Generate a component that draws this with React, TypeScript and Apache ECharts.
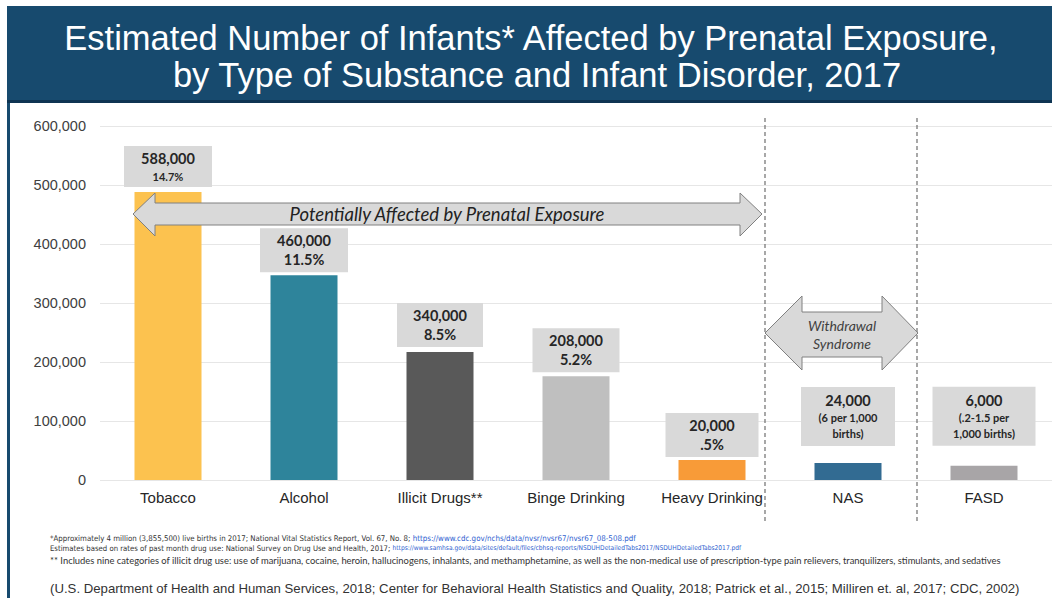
import React, { useEffect, useRef } from "react";
import * as echarts from "echarts";

const categories = ["Tobacco", "Alcohol", "Illicit Drugs**", "Binge Drinking", "Heavy Drinking", "NAS", "FASD"];
// bar heights as drawn in the picture
const barValues = [488000, 347000, 217000, 176000, 34000, 29000, 24000];
// numbers printed in the grey boxes
const labelTotals = ["588,000", "460,000", "340,000", "208,000", "20,000", "24,000", "6,000"];
const labelNotes = [["14.7%"], ["11.5%"], ["8.5%"], ["5.2%"], [".5%"], ["(6 per 1,000", "births)"], ["(.2-1.5 per", "1,000 births)"]];
const barColors = ["#fcc24f", "#2e849b", "#595959", "#bfbfbf", "#f89b38", "#326b92", "#a8a5a7"];

const titleLines = [
  "Estimated Number of Infants* Affected by Prenatal Exposure,",
  "by Type of Substance and Infant Disorder, 2017",
];
const footLine1 = "*Approximately 4 million (3,855,500) live births in 2017; National Vital Statistics Report, Vol. 67, No. 8; ";
const footLink1 = "https://www.cdc.gov/nchs/data/nvsr/nvsr67/nvsr67_08-508.pdf";
const footLine2 = "Estimates based on rates of past month drug use: National Survey on Drug Use and Health, 2017; ";
const footLink2 = "https://www.samhsa.gov/data/sites/default/files/cbhsq-reports/NSDUHDetailedTabs2017/NSDUHDetailedTabs2017.pdf";
const footLine3 = "** Includes nine categories of illicit drug use: use of marijuana, cocaine, heroin, hallucinogens, inhalants, and methamphetamine, as well as the non-medical use of prescription-type pain relievers, tranquilizers, stimulants, and sedatives";
const sourceLine = "(U.S. Department of Health and Human Services, 2018; Center for Behavioral Health Statistics and Quality, 2018; Patrick et al., 2015; Milliren et. al, 2017; CDC, 2002)";
const arrowText1 = "Potentially Affected by Prenatal Exposure";
const arrowText2 = ["Withdrawal", "Syndrome"];

// label box styling (positions/sizes kept apart from data)
const labelDistances = [5, 3, 5, 4, 3, 17, 20];
const labelWidths = [88, 88, 86, 87, 93, 94, 103];
const labelSubKinds = ["t", "s", "s", "s", "s", "t", "t"];
const labelPads = [3, 3, 3, 3, 3, 4, 4];

const SANS = "'Liberation Sans', Arial, sans-serif";
const NARROW = "'Liberation Sans Narrow', 'DejaVu Sans Condensed', 'Liberation Sans', sans-serif";
const CAL = "Lato, 'Open Sans', sans-serif";

export default function App() {
  const ref = useRef<HTMLDivElement>(null);
  useEffect(() => {
    document.body.style.margin = "0";
    const chart = echarts.init(ref.current!, null, { renderer: "svg", width: 1052, height: 598 });

    const data = barValues.map((v, i) => ({
      value: v,
      itemStyle: { color: barColors[i] },
      label: {
        distance: labelDistances[i],
        width: labelWidths[i],
        padding: [labelPads[i], 0, labelPads[i], 0],
      },
    }));

    const option: any = {
      animation: false,
      backgroundColor: "#ffffff",
      grid: { left: 100, right: 0, top: 126, bottom: 118 },
      xAxis: {
        type: "category",
        data: categories,
        axisLine: { show: false },
        axisTick: { show: false },
        axisLabel: { color: "#262626", fontSize: 15, fontFamily: SANS, margin: 10, interval: 0 },
      },
      yAxis: {
        type: "value",
        min: 0,
        max: 600000,
        interval: 100000,
        axisLine: { show: false },
        axisTick: { show: false },
        splitLine: { lineStyle: { color: "#e6e6e6", width: 1 } },
        axisLabel: {
          color: "#404040",
          fontSize: 14.5,
          fontFamily: SANS,
          margin: 14,
          formatter: (v: number) => v.toLocaleString("en-US"),
        },
      },
      series: [
        {
          type: "bar",
          data,
          barWidth: 67,
          label: {
            show: true,
            position: "top",
            backgroundColor: "#d9d9d9",
            align: "center",
            formatter: (p: any) => {
              const i = p.dataIndex;
              const k = labelSubKinds[i];
              return `{v|${labelTotals[i]}}\n` + labelNotes[i].map((s) => `{${k}|${s}}`).join("\n");
            },
            rich: {
              v: { fontFamily: CAL, fontWeight: "bold", fontSize: 14.5, lineHeight: 19, color: "#262626", align: "center" },
              s: { fontFamily: CAL, fontWeight: "bold", fontSize: 14.5, lineHeight: 19, color: "#262626", align: "center" },
              t: { fontFamily: CAL, fontWeight: "bold", fontSize: 11, lineHeight: 16, color: "#262626", align: "center" },
            },
          },
        },
      ],
      graphic: [
        { type: "rect", shape: { x: 7, y: 6, width: 1045, height: 96 }, style: { fill: "#174a6e" }, z: 0 },
        { type: "rect", shape: { x: 7, y: 100, width: 1045, height: 3 }, style: { fill: "#0e3452" }, z: 0 },
        { type: "rect", shape: { x: 7, y: 103, width: 3, height: 495 }, style: { fill: "#174a6e" }, z: 0 },
        {
          type: "text", x: 531, y: 38, z: 5,
          style: { text: titleLines[0], fill: "#ffffff", font: `34.5px ${SANS}`, align: "center", verticalAlign: "middle" },
        },
        {
          type: "text", x: 537, y: 75, z: 5,
          style: { text: titleLines[1], fill: "#ffffff", font: `34.5px ${SANS}`, align: "center", verticalAlign: "middle" },
        },
        // dashed separators
        { type: "line", shape: { x1: 765, y1: 118, x2: 765, y2: 522 }, style: { stroke: "#6e6e6e", lineWidth: 1.2, lineDash: [4, 3] }, z: 3 },
        { type: "line", shape: { x1: 917, y1: 118, x2: 917, y2: 522 }, style: { stroke: "#6e6e6e", lineWidth: 1.2, lineDash: [4, 3] }, z: 3 },
        // big double arrow
        {
          type: "polygon", z: 10,
          shape: {
            points: [
              [133, 214], [155, 193], [155, 203], [740, 203], [740, 193],
              [762, 214], [740, 236], [740, 225], [155, 225], [155, 236],
            ],
          },
          style: { fill: "#d9d9d9", stroke: "#808080", lineWidth: 1 },
        },
        {
          type: "text", x: 447, y: 214, z: 11,
          style: { text: arrowText1, fill: "#222222", font: `italic 18.5px ${CAL}`, align: "center", verticalAlign: "middle" },
        },
        // withdrawal arrow
        {
          type: "polygon", z: 10,
          shape: {
            points: [
              [765, 333], [802, 296], [802, 312], [882, 312], [882, 296],
              [918, 333], [882, 370], [882, 357], [802, 357], [802, 370],
            ],
          },
          style: { fill: "#d9d9d9", stroke: "#808080", lineWidth: 1 },
        },
        {
          type: "text", x: 842, y: 325, z: 11,
          style: { text: arrowText2[0], fill: "#404040", font: `italic 14px ${CAL}`, align: "center", verticalAlign: "middle" },
        },
        {
          type: "text", x: 842, y: 343, z: 11,
          style: { text: arrowText2[1], fill: "#404040", font: `italic 14px ${CAL}`, align: "center", verticalAlign: "middle" },
        },
        // footnotes
        {
          type: "text", x: 50, y: 538, z: 5,
          style: {
            text: `{a|${footLine1}}{l|${footLink1}}`,
            verticalAlign: "middle",
            rich: {
              a: { fontFamily: NARROW, fontSize: 7.8, fill: "#333333" },
              l: { fontFamily: NARROW, fontSize: 7.9, fill: "#2f5fd0" },
            },
          },
        },
        {
          type: "text", x: 50, y: 548, z: 5,
          style: {
            text: `{a|${footLine2}}{l|${footLink2}}`,
            verticalAlign: "middle",
            rich: {
              a: { fontFamily: NARROW, fontSize: 7.7, fill: "#333333" },
              l: { fontFamily: NARROW, fontSize: 6.6, fill: "#2f5fd0" },
            },
          },
        },
        {
          type: "text", x: 50, y: 560, z: 5,
          style: { text: footLine3, fill: "#333333", font: `9.4px ${CAL}`, verticalAlign: "middle" },
        },
        {
          type: "text", x: 50, y: 588, z: 5,
          style: { text: sourceLine, fill: "#333333", font: `13.2px ${SANS}`, verticalAlign: "middle" },
        },
      ],
    };
    chart.setOption(option);
    return () => chart.dispose();
  }, []);
  return <div ref={ref} style={{ width: 1052, height: 598 }} />;
}
